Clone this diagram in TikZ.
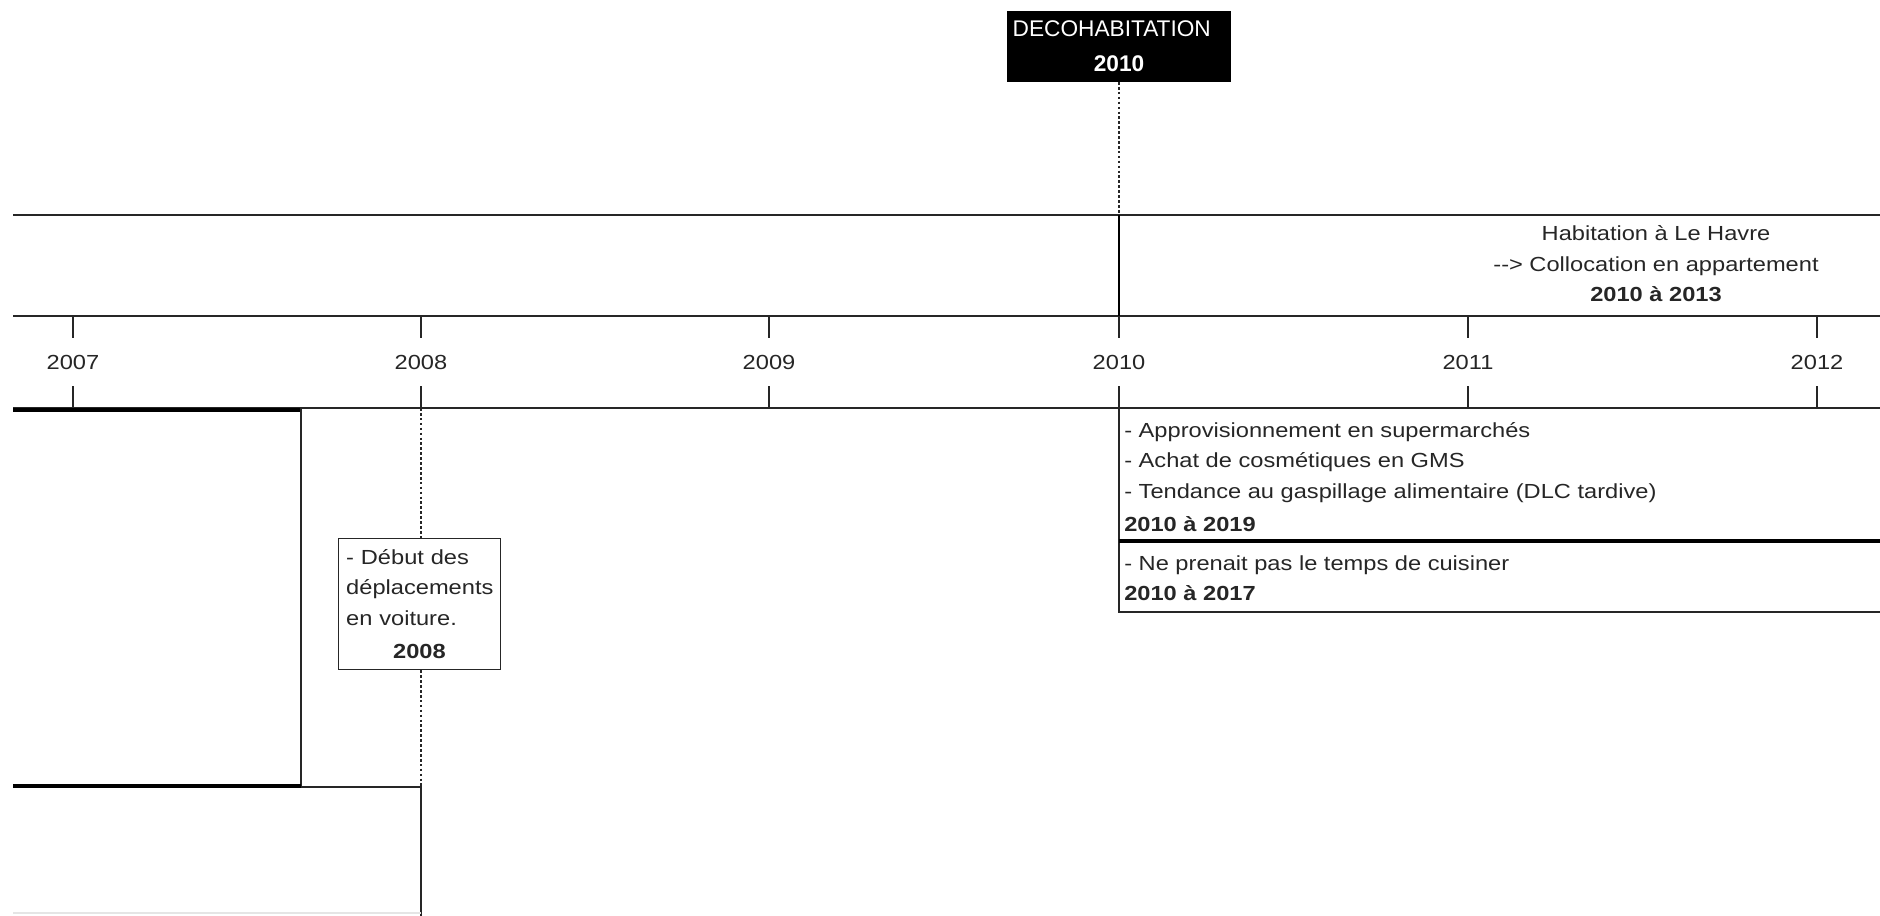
\documentclass[tikz,border=0pt]{standalone}
\usepackage{fontspec}
\setmainfont{Liberation Sans}[FakeStretch=1.16]
\newfontfamily\decofont{Liberation Sans}
\usetikzlibrary{positioning}

\tikzset{
  trait/.style={black!85, line width=0.7pt},
  gras/.style={black, line width=2pt},
  pointille/.style={black!85, line width=0.8pt, dash pattern=on 1.5pt off 1.3pt},
  annee/.style={inner xsep=2pt, inner ysep=0pt, text height=8.3pt, text depth=0pt, minimum height=27pt},
  evenement/.style={align=left, anchor=north west, inner xsep=2.8pt, inner ysep=8pt},
}

\begin{document}
\begin{tikzpicture}[x=0.02cm, y=-0.02cm, font=\fontsize{11.6pt}{17.3pt}\selectfont, text=black!85]
  \useasboundingbox (0,0) rectangle (1880,916);
  % bande et axe
  \draw[trait] (13,215) -- (1880,215);
  \draw[trait] (13,316) -- (1880,316);
  \draw[trait] (13,408) -- (1880,408);
  \foreach \an/\x in {2007/73, 2008/421, 2009/769, 2010/1119, 2011/1468, 2012/1817} {
    \coordinate (t\an) at (\x,316);
    \node[annee] (a\an) at (\x,362) {\an};
    \draw[trait] (t\an) -- (a\an.north);
    \draw[trait] (a\an.south) -- (\x,408);
  }

  % decohabitation
  \node[fill=black, text=white, minimum height=40pt, text width=121pt, inner xsep=3.5pt, align=left,
        font=\decofont\fontsize{12.9pt}{19.8pt}\selectfont] (deco) at (1119,46.5)
    {DECOHABITATION\\\makebox[\linewidth]{\textbf{2010}}};
  \draw[pointille] (deco.south) -- (1119,215);
  \draw[black, line width=1.4pt] (1119,215) -- (t2010);
  \node[align=center] (havre) at (1656,264)
    {Habitation à Le Havre\\-{}-> Collocation en appartement\\\textbf{2010 à 2013}};

  % periodes a gauche
  \draw[gras] (13,410) -- (301,410);
  \draw[trait] (301,408) -- (301,787);
  \draw[gras] (13,786) -- (301,786);
  \draw[trait] (301,787) -- (421,787) -- (421,916);
  \draw[black!10, line width=0.7pt] (13,913) -- (421,913);

  % 2008
  \node[draw=black!85, line width=0.7pt, fill=white, minimum height=74.8pt, text width=83.4pt,
        inner xsep=4.5pt, align=left] (voiture) at (419.5,604)
    {- Début des\\déplacements\\en voiture.\\[1.5pt]\makebox[83.4pt]{\textbf{2008}}};
  \draw[pointille] (421,408) -- (voiture.north -| t2008);
  \draw[pointille] (voiture.south -| t2008) -- (421,787);

  % 2010
  \draw[trait] (1119,408) -- (1119,612) -- (1880,612);
  \draw[gras] (1119,541) -- (1880,541);
  \node[evenement] (courses) at (1119,408)
    {- Approvisionnement en supermarchés\\- Achat de cosmétiques en GMS\\- Tendance au gaspillage alimentaire (DLC tardive)\\[1.5pt]\textbf{2010 à 2019}};
  \node[evenement] (cuisine) at (1119,541)
    {- Ne prenait pas le temps de cuisiner\\\textbf{2010 à 2017}};
\end{tikzpicture}
\end{document}
